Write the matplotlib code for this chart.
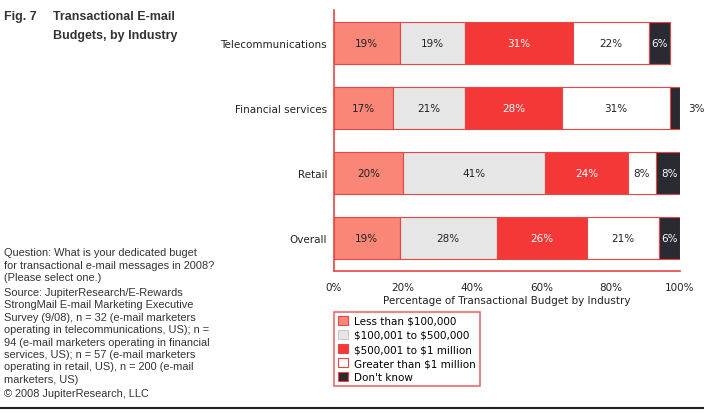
import matplotlib
matplotlib.use("Agg")
import matplotlib.pyplot as plt
from matplotlib.patches import Patch
from matplotlib.lines import Line2D
from matplotlib import font_manager

industries = ["Telecommunications", "Financial services", "Retail", "Overall"]
series_names = ["Less than \\$100,000", "\\$100,001 to \\$500,000", "\\$500,001 to \\$1 million",
                "Greater than \\$1 million", "Don't know"]
less_100k = [19, 17, 20, 19]
k100_500 = [19, 21, 41, 28]
k500_1m = [31, 28, 24, 26]
over_1m = [22, 31, 8, 21]
dont_know = [6, 3, 8, 6]
series = [less_100k, k100_500, k500_1m, over_1m, dont_know]
colors = ["#F98676", "#E6E6E6", "#F43838", "#FFFFFF", "#2A2A33"]
text_colors = ["#222222", "#222222", "#FFFFFF", "#222222", "#FFFFFF"]
xticks = [0, 20, 40, 60, 80, 100]
xtick_labels = ["0%", "20%", "40%", "60%", "80%", "100%"]

edge = "#E84545"

available = {f.name for f in font_manager.fontManager.ttflist}
if "Liberation Sans Narrow" in available:
    title_family, title_size = "Liberation Sans Narrow", 10
elif "DejaVu Sans Condensed" in available:
    title_family, title_size = "DejaVu Sans Condensed", 9
else:
    title_family, title_size = "Liberation Sans", 9

fig = plt.figure(figsize=(7.04, 4.14), dpi=100)
ax = fig.add_axes([334/704, 1-272/414, (680-334)/704, (272-11)/414])

ypos = list(range(len(industries)))
left = [0]*len(industries)
for vals, col, tcol in zip(series, colors, text_colors):
    ax.barh(ypos, vals, left=left, height=0.65, color=col, edgecolor=edge, linewidth=0.8)
    for y, l, v in zip(ypos, left, vals):
        if v >= 5:
            ax.text(l + v/2, y, f"{v}%", ha="center", va="center", fontsize=7.5, color=tcol)
        else:
            ax.text(l + v + 2.5, y, f"{v}%", ha="left", va="center", fontsize=7.5, color="#222222")
    left = [a + b for a, b in zip(left, vals)]

ax.set_xlim(0, 100)
ax.set_ylim(len(industries) - 0.49, -0.51)
ax.set_yticks(ypos)
ax.set_yticklabels(industries, fontsize=7.5, color="#222222")
ax.set_xticks(xticks)
ax.set_xticklabels(xtick_labels, fontsize=7.5, color="#222222")
ax.tick_params(length=0, pad=5)
ax.tick_params(axis="x", pad=8)
ax.set_xlabel("Percentage of Transactional Budget by Industry", fontsize=7.5, color="#222222", labelpad=2)
for s in ["top", "right"]:
    ax.spines[s].set_visible(False)
for s in ["left", "bottom"]:
    ax.spines[s].set_color(edge)
    ax.spines[s].set_linewidth(1.2)

handles = [Patch(facecolor=c, edgecolor=edge if c != "#E6E6E6" else "#D0C8C8", linewidth=0.8, label=n)
           for c, n in zip(colors, series_names)]
leg = fig.legend(handles=handles, loc="upper left", bbox_to_anchor=(334/704, 1-313/414),
                 fontsize=7.5, frameon=True, fancybox=False, borderpad=0.35,
                 handlelength=1.0, handleheight=1.0, handletextpad=0.6, labelspacing=0.37,
                 borderaxespad=0)
leg.get_frame().set_edgecolor(edge)
leg.get_frame().set_linewidth(1.2)

# Title
fig.text(4/704, 1-17/414, "Fig. 7", fontsize=title_size, fontweight="bold", color="#333333",
         va="center", ha="left", family=title_family)
fig.text(53/704, 1-17/414, "Transactional E-mail", fontsize=title_size, fontweight="bold", color="#333333",
         va="center", ha="left", family=title_family)
fig.text(53/704, 1-36/414, "Budgets, by Industry", fontsize=title_size, fontweight="bold", color="#333333",
         va="center", ha="left", family=title_family)

note_lines = [
    ("Question: What is your dedicated buget", 253),
    ("for transactional e-mail messages in 2008?", 266),
    ("(Please select one.)", 278),
    ("Source: JupiterResearch/E-Rewards", 293),
    ("StrongMail E-mail Marketing Executive", 305),
    ("Survey (9/08), n = 32 (e-mail marketers", 318),
    ("operating in telecommunications, US); n =", 330),
    ("94 (e-mail marketers operating in financial", 343),
    ("services, US); n = 57 (e-mail marketers", 355),
    ("operating in retail, US), n = 200 (e-mail", 367),
    ("marketers, US)", 380),
    ("\u00a9 2008 JupiterResearch, LLC", 394),
]
for txt, yy in note_lines:
    fig.text(4/704, 1-yy/414, txt, fontsize=7.9, color="#333333", va="center", ha="left",
             family="Liberation Sans")

fig.add_artist(Line2D([0, 1], [1-409/414, 1-409/414], color="#222222", linewidth=1.5,
                      transform=fig.transFigure))

fig.savefig("out.png", dpi=100)
